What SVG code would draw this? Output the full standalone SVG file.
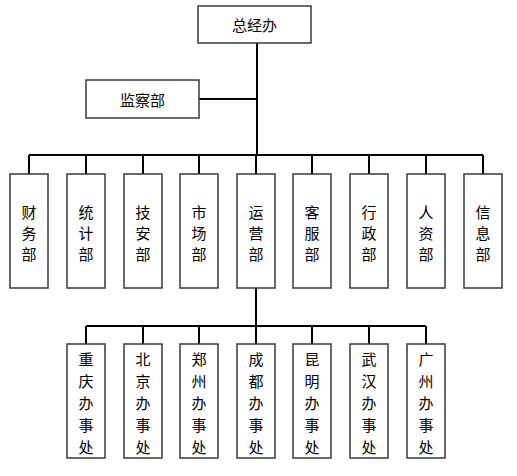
<svg xmlns="http://www.w3.org/2000/svg" width="517" height="476" viewBox="0 0 517 476">
<style>
.box{fill:#fff;stroke:#3a3a3a;stroke-width:1.5}
.ln{fill:none;stroke:#000;stroke-width:2}
text{font-family:"Noto Sans CJK SC","Noto Sans CJK JP",sans-serif;font-size:15px;fill:#000;text-anchor:middle;dominant-baseline:central}
</style>
<rect width="517" height="476" fill="#fff"/>
<g id="connectors">
<path class="ln" d="M257,43 V155 M199,99 H257 M29,155 H483 M29,155 V174 M86,155 V174 M143,155 V174 M199,155 V174 M256,155 V174 M312,155 V174 M369,155 V174 M426,155 V174 M483,155 V174 M256,288 V326 M86,326 H426 M86,326 V344 M143,326 V344 M199,326 V344 M256,326 V344 M312,326 V344 M369,326 V344 M426,326 V344"/>
</g>
<g id="zongjingban"><rect class="box" x="198" y="6" width="113" height="37"/><text x="254.5" y="24.5">总经办</text></g>
<g id="jianchabu"><rect class="box" x="86" y="80" width="113" height="38"/><text x="142.5" y="99">监察部</text></g>
<g id="caiwubu"><rect class="box" x="10" y="174" width="38" height="114"/><text x="29" y="211">财</text><text x="29" y="232">务</text><text x="29" y="253">部</text></g>
<g id="tongjibu"><rect class="box" x="67" y="174" width="38" height="114"/><text x="86" y="211">统</text><text x="86" y="232">计</text><text x="86" y="253">部</text></g>
<g id="jianbu"><rect class="box" x="124" y="174" width="38" height="114"/><text x="143" y="211">技</text><text x="143" y="232">安</text><text x="143" y="253">部</text></g>
<g id="shichangbu"><rect class="box" x="180" y="174" width="38" height="114"/><text x="199" y="211">市</text><text x="199" y="232">场</text><text x="199" y="253">部</text></g>
<g id="yunyingbu"><rect class="box" x="237" y="174" width="38" height="114"/><text x="256" y="211">运</text><text x="256" y="232">营</text><text x="256" y="253">部</text></g>
<g id="kefubu"><rect class="box" x="293" y="174" width="38" height="114"/><text x="312" y="211">客</text><text x="312" y="232">服</text><text x="312" y="253">部</text></g>
<g id="xingzhengbu"><rect class="box" x="350" y="174" width="38" height="114"/><text x="369" y="211">行</text><text x="369" y="232">政</text><text x="369" y="253">部</text></g>
<g id="renzibu"><rect class="box" x="407" y="174" width="38" height="114"/><text x="426" y="211">人</text><text x="426" y="232">资</text><text x="426" y="253">部</text></g>
<g id="xinxibu"><rect class="box" x="464" y="174" width="38" height="114"/><text x="483" y="211">信</text><text x="483" y="232">息</text><text x="483" y="253">部</text></g>
<g id="chongqing"><rect class="box" x="67" y="344" width="38" height="114"/><text x="86" y="358">重</text><text x="86" y="380">庆</text><text x="86" y="402">办</text><text x="86" y="424">事</text><text x="86" y="446">处</text></g>
<g id="beijing"><rect class="box" x="124" y="344" width="38" height="114"/><text x="143" y="358">北</text><text x="143" y="380">京</text><text x="143" y="402">办</text><text x="143" y="424">事</text><text x="143" y="446">处</text></g>
<g id="zhengzhou"><rect class="box" x="180" y="344" width="38" height="114"/><text x="199" y="358">郑</text><text x="199" y="380">州</text><text x="199" y="402">办</text><text x="199" y="424">事</text><text x="199" y="446">处</text></g>
<g id="chengdu"><rect class="box" x="237" y="344" width="38" height="114"/><text x="256" y="358">成</text><text x="256" y="380">都</text><text x="256" y="402">办</text><text x="256" y="424">事</text><text x="256" y="446">处</text></g>
<g id="kunming"><rect class="box" x="293" y="344" width="38" height="114"/><text x="312" y="358">昆</text><text x="312" y="380">明</text><text x="312" y="402">办</text><text x="312" y="424">事</text><text x="312" y="446">处</text></g>
<g id="wuhan"><rect class="box" x="350" y="344" width="38" height="114"/><text x="369" y="358">武</text><text x="369" y="380">汉</text><text x="369" y="402">办</text><text x="369" y="424">事</text><text x="369" y="446">处</text></g>
<g id="guangzhou"><rect class="box" x="407" y="344" width="38" height="114"/><text x="426" y="358">广</text><text x="426" y="380">州</text><text x="426" y="402">办</text><text x="426" y="424">事</text><text x="426" y="446">处</text></g>
</svg>
